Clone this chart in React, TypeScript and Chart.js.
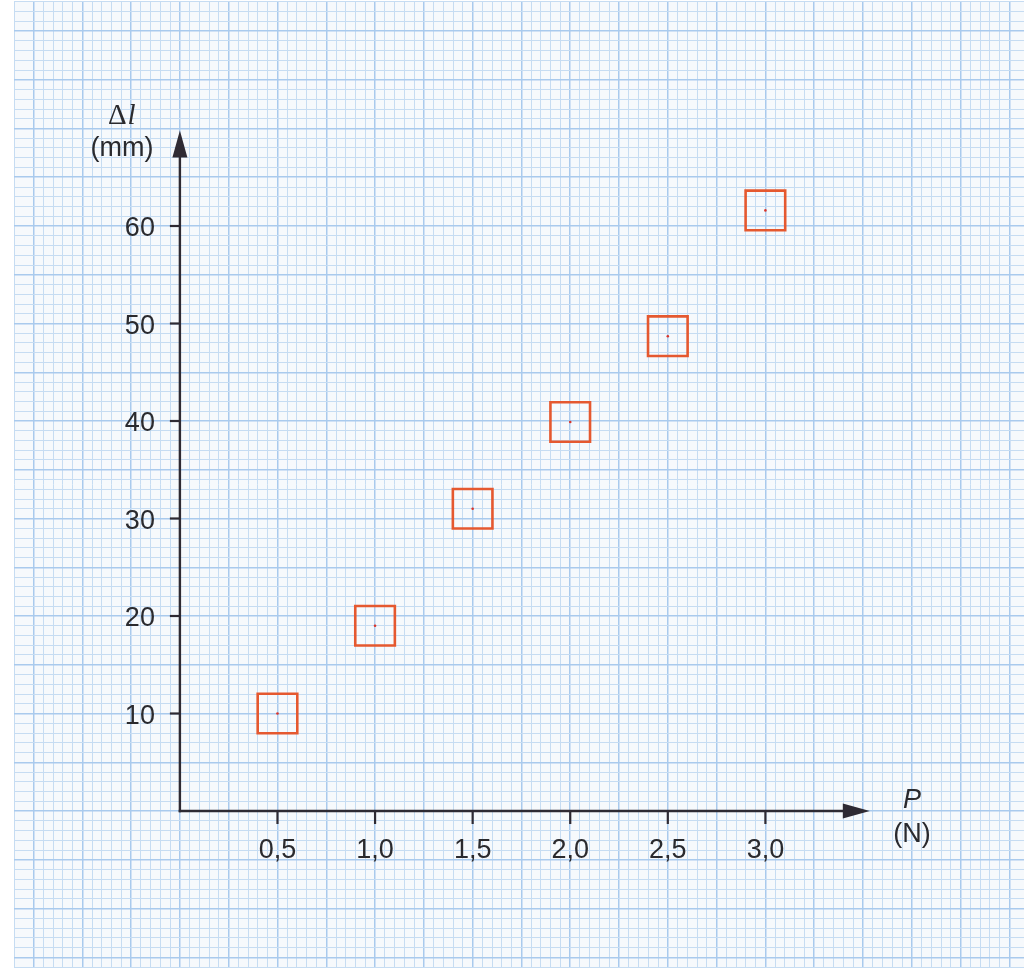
import { useEffect, useRef } from "react";
import { Chart, registerables } from "chart.js";

Chart.register(...registerables);

// ---- data ----
const forceValues = [0.5, 1.0, 1.5, 2.0, 2.5, 3.0];
const elongationValues = [10, 19, 31, 39.9, 48.7, 61.6];
const xTickValues = [0.5, 1.0, 1.5, 2.0, 2.5, 3.0];
const xTickLabels = ["0,5", "1,0", "1,5", "2,0", "2,5", "3,0"];
const yTickValues = [10, 20, 30, 40, 50, 60];
const yTickLabels = ["10", "20", "30", "40", "50", "60"];
const xTitleSymbol = "P";
const xTitleUnit = "(N)";
const yTitleDelta = "Δ";
const yTitleSymbol = "l";
const yTitleUnit = "(mm)";

// ---- styles ----
const PAPER = "#f6f9fc";
const GRID_MINOR = "#c6dcf2";
const GRID_MAJOR = "#a9caed";
const AXIS = "#2e2a33";
const TEXT = "#2a2a2e";
const BOX = "#e5582f";
const DOT = "#d9342b";
const SANS = '"Liberation Sans", Arial, sans-serif';
const SERIF = '"Liberation Serif", "Times New Roman", serif';

const isMultiple = (v: number, step: number) =>
  Math.abs(v / step - Math.round(v / step)) < 1e-6;

const paperPlugin = {
  id: "paper",
  beforeDraw(chart: any) {
    const { ctx, chartArea, width, height } = chart;
    ctx.save();
    ctx.fillStyle = "#ffffff";
    ctx.fillRect(0, 0, width, height);
    ctx.fillStyle = PAPER;
    ctx.fillRect(
      chartArea.left,
      chartArea.top,
      chartArea.right - chartArea.left,
      chartArea.bottom - chartArea.top
    );
    ctx.restore();
  },
};

const axesPlugin = {
  id: "axesArrows",
  afterDraw(chart: any) {
    const { ctx } = chart;
    const xs = chart.scales.x;
    const ys = chart.scales.y;
    const ox = xs.getPixelForValue(0);
    const oy = ys.getPixelForValue(0);
    ctx.save();
    ctx.strokeStyle = AXIS;
    ctx.fillStyle = AXIS;
    ctx.lineWidth = 2.4;
    ctx.lineCap = "butt";

    // y axis
    const yTip = ys.getPixelForValue(69.8);
    ctx.beginPath();
    ctx.moveTo(ox, oy + 1.2);
    ctx.lineTo(ox, yTip + 20);
    ctx.stroke();
    ctx.beginPath();
    ctx.moveTo(ox, yTip);
    ctx.lineTo(ox - 7.5, yTip + 27);
    ctx.lineTo(ox + 7.5, yTip + 27);
    ctx.closePath();
    ctx.fill();

    // x axis
    const xTip = xs.getPixelForValue(3.535);
    ctx.beginPath();
    ctx.moveTo(ox - 1.2, oy);
    ctx.lineTo(xTip - 20, oy);
    ctx.stroke();
    ctx.beginPath();
    ctx.moveTo(xTip, oy);
    ctx.lineTo(xTip - 27, oy - 7.5);
    ctx.lineTo(xTip - 27, oy + 7.5);
    ctx.closePath();
    ctx.fill();

    // ticks
    ctx.lineWidth = 2.2;
    xTickValues.forEach((v) => {
      const px = xs.getPixelForValue(v);
      ctx.beginPath();
      ctx.moveTo(px, oy);
      ctx.lineTo(px, oy + 13);
      ctx.stroke();
    });
    yTickValues.forEach((v) => {
      const py = ys.getPixelForValue(v);
      ctx.beginPath();
      ctx.moveTo(ox - 10, py);
      ctx.lineTo(ox, py);
      ctx.stroke();
    });

    // tick labels
    ctx.fillStyle = TEXT;
    ctx.font = `27px ${SANS}`;
    ctx.textBaseline = "alphabetic";
    ctx.textAlign = "center";
    xTickValues.forEach((v, i) => {
      ctx.fillText(xTickLabels[i], xs.getPixelForValue(v), oy + 47);
    });
    ctx.textAlign = "right";
    yTickValues.forEach((v, i) => {
      ctx.fillText(yTickLabels[i], ox - 25, ys.getPixelForValue(v) + 10);
    });

    // x title
    ctx.textAlign = "center";
    ctx.font = `italic 27px ${SANS}`;
    ctx.fillText(xTitleSymbol, ox + 732, oy - 3);
    ctx.font = `27px ${SANS}`;
    ctx.fillText(xTitleUnit, ox + 732, oy + 31);

    // y title
    ctx.fillText(yTitleUnit, ox - 58, yTip + 26);
    ctx.textAlign = "left";
    ctx.font = `29px ${SERIF}`;
    const dx = ox - 72;
    ctx.fillText(yTitleDelta, dx, yTip - 6);
    const dw = ctx.measureText(yTitleDelta).width;
    ctx.font = `italic 29px ${SERIF}`;
    ctx.fillText(yTitleSymbol, dx + dw + 1, yTip - 6);

    ctx.restore();
  },
};

export default function App() {
  const canvasRef = useRef<HTMLCanvasElement | null>(null);

  useEffect(() => {
    document.body.style.margin = "0";
    const canvas = canvasRef.current;
    if (!canvas) return;
    const points = forceValues.map((x, i) => ({ x, y: elongationValues[i] }));
    const chart = new Chart(canvas, {
      type: "scatter",
      data: {
        datasets: [
          {
            data: points,
            pointStyle: "rect",
            pointRadius: 28,
            pointHoverRadius: 28,
            borderColor: BOX,
            backgroundColor: "rgba(0,0,0,0)",
            borderWidth: 2.6,
          },
          {
            data: points,
            pointStyle: "circle",
            pointRadius: 1.3,
            pointHoverRadius: 1.3,
            borderWidth: 0,
            backgroundColor: DOT,
            borderColor: DOT,
          },
        ],
      },
      options: {
        responsive: false,
        animation: false,
        events: [],
        layout: {
          autoPadding: false,
          padding: { left: 14, right: 0, top: 1.75, bottom: 3 },
        },
        plugins: {
          legend: { display: false },
          tooltip: { enabled: false },
        },
        scales: {
          x: {
            type: "linear",
            min: -0.85,
            max: 4.325,
            border: { display: false },
            ticks: { display: false, stepSize: 0.05 },
            grid: {
              drawTicks: false,
              color: (c: any) =>
                isMultiple(c.tick.value, 0.25) ? GRID_MAJOR : GRID_MINOR,
              lineWidth: (c: any) =>
                isMultiple(c.tick.value, 0.25) ? 1.5 : 1,
            },
          },
          y: {
            type: "linear",
            min: -16,
            max: 83,
            border: { display: false },
            ticks: { display: false, stepSize: 1 },
            grid: {
              drawTicks: false,
              color: (c: any) =>
                isMultiple(c.tick.value, 5) ? GRID_MAJOR : GRID_MINOR,
              lineWidth: (c: any) => (isMultiple(c.tick.value, 5) ? 1.5 : 1),
            },
          },
        },
      },
      plugins: [paperPlugin, axesPlugin],
    });
    return () => chart.destroy();
  }, []);

  return (
    <div style={{ width: 1024, height: 970 }}>
      <canvas
        ref={canvasRef}
        width={1024}
        height={970}
        style={{ display: "block", width: 1024, height: 970 }}
      />
    </div>
  );
}
